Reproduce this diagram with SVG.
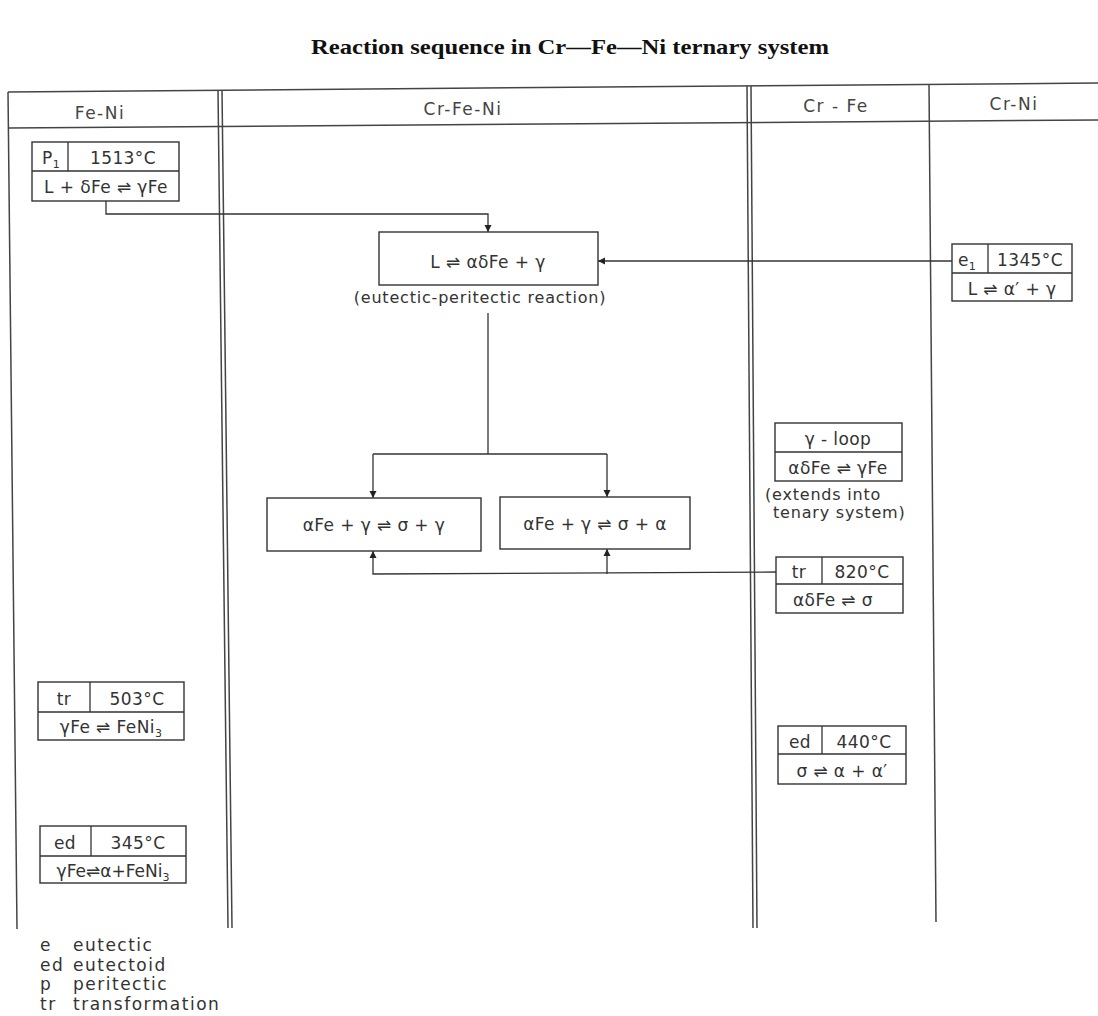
<svg xmlns="http://www.w3.org/2000/svg" width="1098" height="1016" viewBox="0 0 1098 1016">
<style>
  .t { font-family: "DejaVu Sans", "Liberation Sans", sans-serif; fill: #333; font-size: 17px; letter-spacing: 0.4px; }
  .h { font-family: "DejaVu Sans", "Liberation Sans", sans-serif; fill: #444; font-size: 17px; letter-spacing: 1.5px; }
  .s { font-family: "DejaVu Sans", "Liberation Sans", sans-serif; fill: #333; font-size: 16px; letter-spacing: 0.8px; }
  .lg { font-family: "DejaVu Sans", "Liberation Sans", sans-serif; fill: #333; font-size: 17px; letter-spacing: 1.5px; }
  .c { text-anchor: middle; }
  .box { fill: #fff; stroke: #333; stroke-width: 1.4; }
  .ln { fill: none; stroke: #333; stroke-width: 1.3; }
  .grid { fill: none; stroke: #444; stroke-width: 1.5; }
  .title { font-family: "Liberation Serif", serif; font-weight: bold; font-size: 21px; fill: #111; text-anchor: middle; }
</style>
<defs>
  <marker id="arr" viewBox="0 0 10 10" refX="10" refY="5" markerWidth="7" markerHeight="9" markerUnits="userSpaceOnUse" orient="auto">
    <path d="M0,0 L10,5 L0,10 z" fill="#222"/>
  </marker>
</defs>
<rect width="1098" height="1016" fill="#fff"/>

<text class="title" x="570" y="54" textLength="518" lengthAdjust="spacingAndGlyphs">Reaction sequence in Cr—Fe—Ni ternary system</text>

<g id="table">
  <path class="grid" d="M8,92 L1098,83"/>
  <path class="grid" d="M8,128 L1098,120"/>
  <path class="grid" d="M8,92 L17,929"/>
  <path class="grid" d="M218,90 L228,928"/>
  <path class="grid" d="M222,90 L232,928"/>
  <path class="grid" d="M747,86 L753,928"/>
  <path class="grid" d="M751,86 L757,928"/>
  <path class="grid" d="M929,84 L936,922"/>
  <text class="h c" x="100" y="119">Fe-Ni</text>
  <text class="h c" x="463" y="115">Cr-Fe-Ni</text>
  <text class="h c" x="836" y="112">Cr - Fe</text>
  <text class="h c" x="1014" y="110">Cr-Ni</text>
</g>

<g id="connectors">
  <path class="ln" d="M106,201 V214 H488 V232" marker-end="url(#arr)"/>
  <path class="ln" d="M952,261 H598" marker-end="url(#arr)"/>
  <path class="ln" d="M488,313 V454"/>
  <path class="ln" d="M373,454 H607"/>
  <path class="ln" d="M373,454 V498" marker-end="url(#arr)"/>
  <path class="ln" d="M607,454 V497" marker-end="url(#arr)"/>
  <path class="ln" d="M776,572 L373,574 V551" marker-end="url(#arr)"/>
  <path class="ln" d="M607,574 V549" marker-end="url(#arr)"/>
</g>

<g id="p1">
  <rect class="box" x="32" y="142" width="147" height="59"/>
  <path class="ln" d="M32,171 H179 M68,142 V171"/>
  <text class="t" x="42" y="164">P<tspan font-size="11" dy="4">1</tspan></text>
  <text class="t c" x="123" y="164">1513°C</text>
  <text class="t c" x="106" y="193">L + δFe ⇌ γFe</text>
</g>

<g id="main">
  <rect class="box" x="379" y="232" width="219" height="53"/>
  <text class="t c" x="488" y="268">L ⇌ αδFe + γ</text>
  <text class="s c" x="480" y="303">(eutectic-peritectic reaction)</text>
</g>

<g id="e1">
  <rect class="box" x="952" y="244" width="120" height="57"/>
  <path class="ln" d="M952,273 H1072 M988,244 V273"/>
  <text class="t" x="958" y="266">e<tspan font-size="11" dy="4">1</tspan></text>
  <text class="t c" x="1030" y="266">1345°C</text>
  <text class="t c" x="1012" y="295">L ⇌ α′ + γ</text>
</g>

<g id="ternL">
  <rect class="box" x="267" y="498" width="214" height="53"/>
  <text class="t c" x="374" y="531">αFe + γ ⇌ σ + γ</text>
</g>

<g id="ternR">
  <rect class="box" x="500" y="497" width="190" height="52"/>
  <text class="t c" x="595" y="530">αFe + γ ⇌ σ + α</text>
</g>

<g id="gloop">
  <rect class="box" x="775" y="423" width="127" height="58"/>
  <path class="ln" d="M775,452 H902"/>
  <text class="t c" x="838" y="445">γ - loop</text>
  <text class="t c" x="838" y="474">αδFe ⇌ γFe</text>
  <text class="s" x="765" y="500" font-size="15">(extends into</text>
  <text class="s" x="773" y="518" font-size="15">tenary system)</text>
</g>

<g id="tr820">
  <rect class="box" x="776" y="557" width="127" height="56"/>
  <path class="ln" d="M776,584 H903 M822,557 V584"/>
  <text class="t c" x="799" y="578">tr</text>
  <text class="t c" x="862" y="578">820°C</text>
  <text class="t c" x="833" y="606">αδFe ⇌ σ</text>
</g>

<g id="tr503">
  <rect class="box" x="38" y="682" width="146" height="58"/>
  <path class="ln" d="M38,712 H184 M90,682 V712"/>
  <text class="t c" x="64" y="705">tr</text>
  <text class="t c" x="137" y="705">503°C</text>
  <text class="t c" x="111" y="733">γFe ⇌ FeNi<tspan font-size="11" dy="4">3</tspan></text>
</g>

<g id="ed345">
  <rect class="box" x="40" y="826" width="146" height="57"/>
  <path class="ln" d="M40,856 H186 M91,826 V856"/>
  <text class="t c" x="65" y="849">ed</text>
  <text class="t c" x="138" y="849">345°C</text>
  <text class="t c" x="113" y="877" font-size="16" style="letter-spacing:0">γFe⇌α+FeNi<tspan font-size="11" dy="4">3</tspan></text>
</g>

<g id="ed440">
  <rect class="box" x="778" y="726" width="128" height="58"/>
  <path class="ln" d="M778,754 H906 M822,726 V754"/>
  <text class="t c" x="800" y="748">ed</text>
  <text class="t c" x="864" y="748">440°C</text>
  <text class="t c" x="842" y="777">σ ⇌ α + α′</text>
</g>

<g id="legend">
  <text class="lg" x="40" y="951">e</text><text class="lg" x="73" y="951">eutectic</text>
  <text class="lg" x="40" y="971">ed</text><text class="lg" x="73" y="971">eutectoid</text>
  <text class="lg" x="40" y="990">p</text><text class="lg" x="73" y="990">peritectic</text>
  <text class="lg" x="40" y="1010">tr</text><text class="lg" x="73" y="1010">transformation</text>
</g>
</svg>
